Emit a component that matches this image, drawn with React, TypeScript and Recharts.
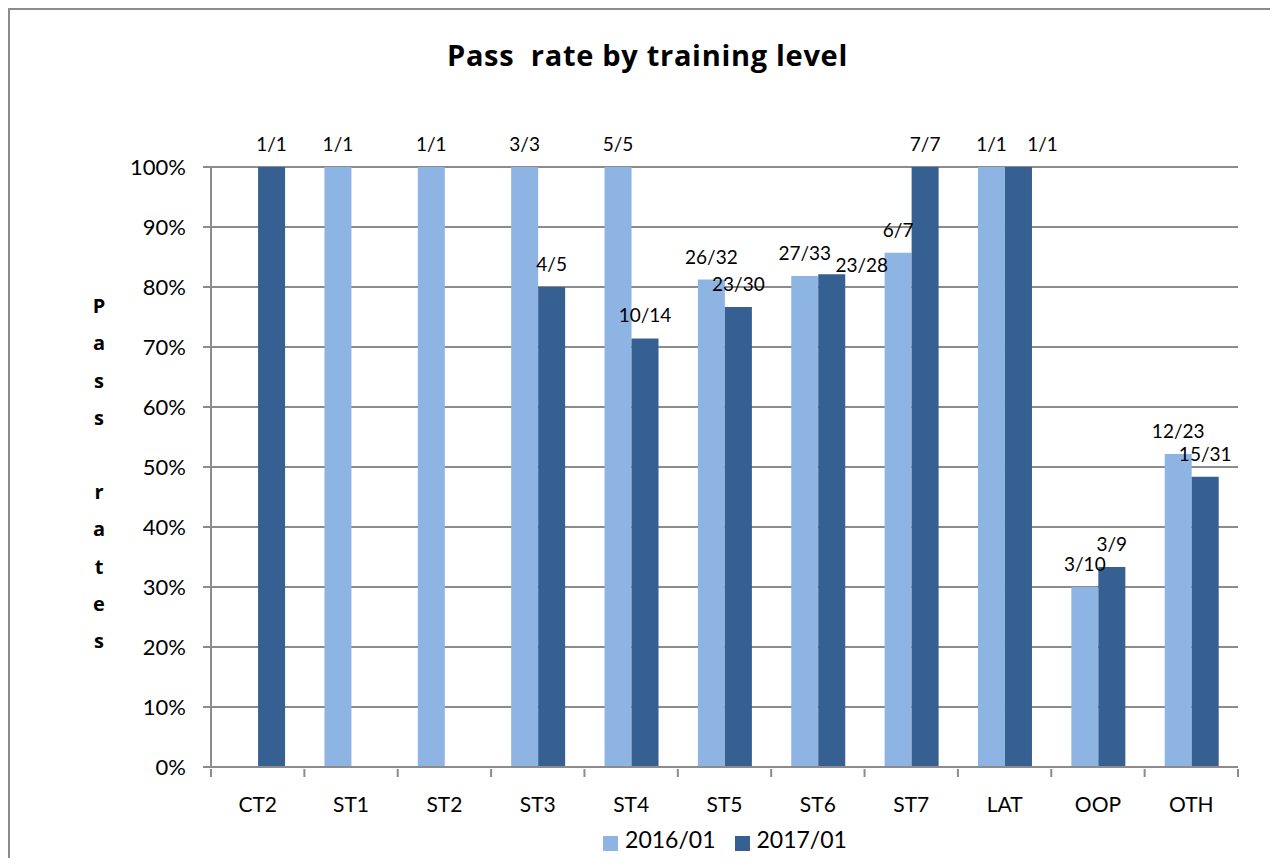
import React from "react";
import {
  BarChart,
  Bar,
  XAxis,
  YAxis,
  CartesianGrid,
  Legend,
  LabelList,
} from "recharts";

const categories = ["CT2", "ST1", "ST2", "ST3", "ST4", "ST5", "ST6", "ST7", "LAT", "OOP", "OTH"];
// passed / sat for each training level
const passed2016 = [null, 1, 1, 3, 5, 26, 27, 6, 1, 3, 12];
const total2016 = [null, 1, 1, 3, 5, 32, 33, 7, 1, 10, 23];
const passed2017 = [1, null, null, 4, 10, 23, 23, 7, 1, 3, 15];
const total2017 = [1, null, null, 5, 14, 30, 28, 7, 1, 9, 31];
const yTicks = [0, 0.1, 0.2, 0.3, 0.4, 0.5, 0.6, 0.7, 0.8, 0.9, 1];

const LIGHT = "#8EB4E3";
const DARK = "#376092";
const GRID = "#8c8c8c";
const FONT = "Lato, 'Open Sans', sans-serif";
const BOLD_FONT = "'Open Sans', Lato, sans-serif";

const W = 1268;
const H = 848;
const M = { top: 157, right: 40, left: 121, bottom: 5 };
const PLOT_BOTTOM = 759;

// excel nudged a couple of labels off the neighbouring bar
const labelNudge: Record<string, [number, number]> = {
  "ST6-2017": [30, 14],
  "LAT-2017": [24, 0],
};

const rate = (p: number | null, t: number | null) => (p == null || t == null ? null : p / t);
const frac = (p: number | null, t: number | null) => (p == null || t == null ? "" : `${p}/${t}`);

const data = categories.map((c, i) => ({
  name: c,
  y2016: rate(passed2016[i], total2016[i]),
  y2017: rate(passed2017[i], total2017[i]),
  l2016: frac(passed2016[i], total2016[i]),
  l2017: frac(passed2017[i], total2017[i]),
}));

const renderLabel = (year: string) => (props: any) => {
  const vb = props.viewBox && props.viewBox.width != null ? props.viewBox : props;
  if (!props.value) return null;
  const [cat, text] = String(props.value).split("|");
  if (!text) return null;
  const nudge = labelNudge[`${cat}-${year}`] || [0, 0];
  return (
    <text
      x={vb.x + vb.width / 2 + nudge[0]}
      y={vb.y - 16 + nudge[1]}
      textAnchor="middle"
      fontSize={19}
      fontFamily={FONT}
      fill="#000"
    >
      {text}
    </text>
  );
};

const XTick = (props: any) => {
  const { x, payload, index, visibleTicksCount } = props;
  const half = payload.offset || (W - M.left - M.right - 80) / categories.length / 2;
  return (
    <g>
      <line x1={x - half} x2={x - half} y1={PLOT_BOTTOM} y2={PLOT_BOTTOM + 8} stroke={GRID} strokeWidth={2} />
      {index === visibleTicksCount - 1 && (
        <line x1={x + half} x2={x + half} y1={PLOT_BOTTOM} y2={PLOT_BOTTOM + 8} stroke={GRID} strokeWidth={2} />
      )}
      <text x={x} y={PLOT_BOTTOM + 43} textAnchor="middle" fontSize={21} fontFamily={FONT} fill="#000">
        {payload.value}
      </text>
    </g>
  );
};

const VerticalTitle = (props: any) => {
  const vb = props.viewBox;
  const letters = "Pass rates".split("");
  const step = 37.2;
  const cy = vb.y + vb.height / 2 + 6;
  return (
    <text fontSize={20} fontWeight="bold" fontFamily={BOLD_FONT} fill="#000" textAnchor="middle">
      {letters.map((ch, i) => (
        <tspan key={i} x={vb.x - 32} y={cy + (i - 4.5) * step} dominantBaseline="central">
          {ch === " " ? "\u00a0" : ch}
        </tspan>
      ))}
    </text>
  );
};

export default function App() {
  return (
    <div
      style={{
        width: 1270,
        height: 850,
        borderTop: `2px solid ${GRID}`,
        borderLeft: `2px solid ${GRID}`,
        boxSizing: "border-box",
        position: "relative",
        fontFamily: FONT,
        background: "#fff",
      }}
    >
      <div
        style={{
          position: "absolute",
          left: 0,
          top: 27,
          width: 1275,
          textAlign: "center",
          fontSize: 29,
          letterSpacing: 0.7,
          fontFamily: BOLD_FONT,
          fontWeight: "bold",
          lineHeight: "36px",
          whiteSpace: "pre",
        }}
      >
        {"Pass  rate by training level"}
      </div>
      <BarChart width={W} height={H} data={data} margin={M} barCategoryGap="21.5%" barGap={0}>
        <CartesianGrid vertical={false} stroke={GRID} strokeWidth={2} />
        <XAxis
          dataKey="name"
          stroke={GRID}
          strokeWidth={2}
          tickLine={false}
          height={58}
          interval={0}
          tick={<XTick />}
        />
        <YAxis
          width={80}
          domain={[0, 1]}
          ticks={yTicks}
          interval={0}
          tickFormatter={(v: number) => `${Math.round(v * 100)}%`}
          stroke={GRID}
          strokeWidth={2}
          tickSize={8}
          tickMargin={17}
          tick={{ fill: "#000", fontSize: 22, fontFamily: FONT }}
          label={{ content: <VerticalTitle /> }}
        />
        <Legend
          verticalAlign="bottom"
          iconType="square"
          iconSize={15}
          wrapperStyle={{ left: 211, width: 1027 }}
          formatter={(v: string) => (
            <span style={{ color: "#000", fontSize: 23, fontFamily: FONT, paddingLeft: 3, marginRight: 9 }}>{v}</span>
          )}
        />
        <Bar dataKey="y2016" name="2016/01" fill={LIGHT} isAnimationActive={false}>
          <LabelList dataKey={(d: any) => `${d.name}|${d.l2016}`} content={renderLabel("2016")} />
        </Bar>
        <Bar dataKey="y2017" name="2017/01" fill={DARK} isAnimationActive={false}>
          <LabelList dataKey={(d: any) => `${d.name}|${d.l2017}`} content={renderLabel("2017")} />
        </Bar>
      </BarChart>
    </div>
  );
}
